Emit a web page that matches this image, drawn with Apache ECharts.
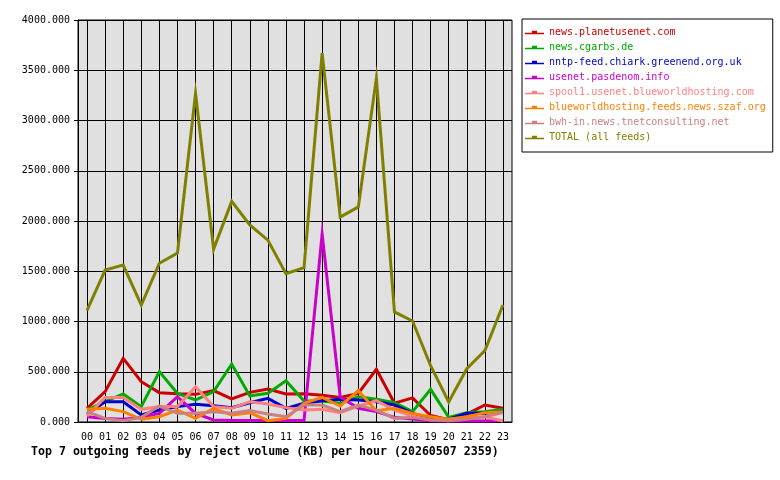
<!DOCTYPE html>
<html>
<head>
<meta charset="utf-8">
<script src="https://cdn.jsdelivr.net/npm/echarts@6/dist/echarts.min.js"></script>
<style>
  html, body { margin: 0; padding: 0; background: #fff; }
  #chart { width: 780px; height: 480px; }
</style>
</head>
<body>
<div id="chart"></div>
<script>
var hours = ['00','01','02','03','04','05','06','07','08','09','10','11',
             '12','13','14','15','16','17','18','19','20','21','22','23'];

var feedNames = [
    'news.planetusenet.com',
    'news.cgarbs.de',
    'nntp-feed.chiark.greenend.org.uk',
    'usenet.pasdenom.info',
    'spool1.usenet.blueworldhosting.com',
    'blueworldhosting.feeds.news.szaf.org',
    'bwh-in.news.tnetconsulting.net',
    'TOTAL (all feeds)'
];
var feedColors = ['#cc0000', '#00aa00', '#0000cc', '#cc00cc', '#ff8080', '#ff8000', '#cc8080', '#808000'];

// reject volume in KB per hour
var planetusenet = [136, 302, 633, 401, 292, 280, 275, 312, 229, 295, 328, 278, 282, 265, 245, 285, 525, 186, 240, 65, 22, 78, 169, 136];
var cgarbs       = [119, 202, 279, 153, 501, 285, 219, 302, 577, 259, 285, 410, 210, 209, 186, 250, 226, 192, 103, 325, 46, 93, 103, 126];
var chiark       = [80, 202, 202, 70, 119, 153, 176, 162, 143, 192, 235, 136, 186, 212, 226, 219, 202, 169, 86, 36, 27, 86, 86, 103];
var pasdenom     = [53, 36, 27, 46, 86, 252, 86, 20, 15, 15, 15, 15, 15, 1870, 250, 136, 103, 46, 30, 13, 10, 10, 10, 15];
var spool1       = [60, 245, 245, 126, 153, 153, 352, 153, 136, 202, 179, 143, 119, 126, 93, 159, 212, 119, 60, 20, 27, 46, 53, 10];
var szaf         = [126, 136, 103, 27, 53, 119, 36, 136, 70, 93, 13, 36, 186, 245, 159, 312, 113, 136, 86, 53, 27, 53, 93, 103];
var tnet         = [103, 36, 13, 46, 159, 86, 86, 103, 86, 113, 80, 53, 169, 169, 103, 169, 119, 36, 46, 20, 13, 27, 53, 93];
var total        = [1110, 1512, 1562, 1164, 1580, 1680, 3270, 1720, 2195, 1960, 1810, 1475, 1535, 3670, 2040, 2140, 3420, 1095, 1005, 560, 200, 530, 710, 1164];

var feedValues = [planetusenet, cgarbs, chiark, pasdenom, spool1, szaf, tnet, total];

var monoFont = '"DejaVu Sans Mono", "Liberation Mono", monospace';
var legendIcon = 'path://M0,4h19v1.5h-19z M7,2h5v3.5h-5z M8,3h3v1h-3z';

var chart = echarts.init(document.getElementById('chart'), null, {renderer: 'canvas'});

var seriesList = [];
var legendData = [];
for (var i = 0; i < feedNames.length; i++) {
    seriesList.push({
        name: feedNames[i],
        type: 'line',
        data: feedValues[i],
        showSymbol: false,
        symbol: 'none',
        animation: false,
        lineStyle: { color: feedColors[i], width: 3, join: 'miter' },
        itemStyle: { color: feedColors[i] },
    });
    legendData.push({
        name: feedNames[i],
        icon: legendIcon,
        itemStyle: { color: feedColors[i] },
        textStyle: { color: feedColors[i] },
    });
}

chart.setOption({
    backgroundColor: '#ffffff',
    animation: false,
    title: {
        text: 'Top 7 outgoing feeds by reject volume (KB) per hour (20260507 2359)',
        left: 31,
        top: 446,
        padding: 0,
        textStyle: {
            fontFamily: monoFont,
            fontSize: 11.6,
            fontWeight: 'bold',
            color: '#000',
        },
    },
    legend: {
        orient: 'vertical',
        left: 522,
        top: 19,
        padding: [6, 7, 7, 3],
        itemWidth: 19,
        itemHeight: 5,
        itemGap: 0,
        borderColor: '#000',
        borderWidth: 1,
        selectedMode: false,
        data: legendData,
        textStyle: {
            fontFamily: monoFont,
            fontSize: 10,
            lineHeight: 15,
        },
    },
    grid: {
        left: 78,
        right: 268,
        top: 20,
        bottom: 58,
        show: true,
        backgroundColor: '#e0e0e0',
        borderColor: '#000',
        borderWidth: 1,
    },
    xAxis: {
        type: 'category',
        data: hours,
        boundaryGap: true,
        axisLine: { lineStyle: { color: '#000', width: 1 } },
        axisTick: { alignWithLabel: true, length: 4, lineStyle: { color: '#000' } },
        axisLabel: {
            interval: 0,
            margin: 10,
            color: '#000',
            fontFamily: monoFont,
            fontSize: 10,
        },
        splitLine: {
            show: true,
            alignWithLabel: true,
            interval: 0,
            lineStyle: { color: '#000', width: 1 },
        },
    },
    yAxis: {
        type: 'value',
        min: 0,
        max: 4000,
        interval: 500,
        axisLine: { show: true, lineStyle: { color: '#000', width: 1 } },
        axisTick: { show: true, length: 4, lineStyle: { color: '#000' } },
        axisLabel: {
            margin: 8,
            color: '#000',
            fontFamily: monoFont,
            fontSize: 10,
            formatter: function (v) { return v.toFixed(3); },
        },
        splitLine: { show: true, lineStyle: { color: '#000', width: 1 } },
    },
    series: seriesList,
});
</script>
</body>
</html>
